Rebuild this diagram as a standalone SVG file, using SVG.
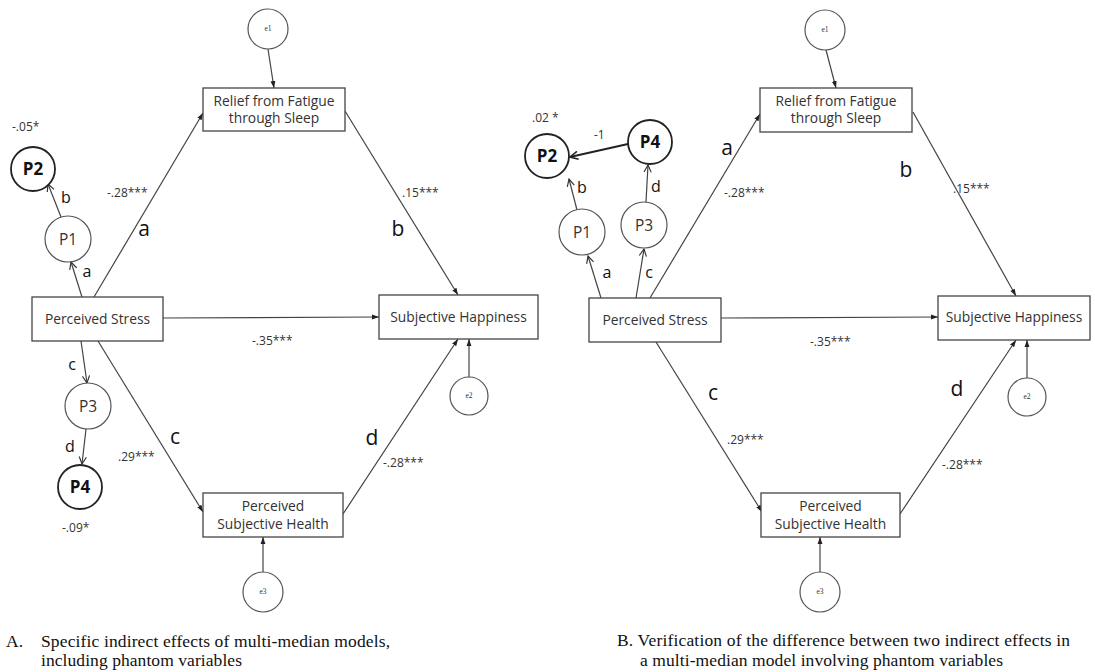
<svg xmlns="http://www.w3.org/2000/svg" width="1095" height="672" viewBox="0 0 1095 672">
<defs>
<style>
.box{fill:#fff;stroke:#444;stroke-width:1.3}
.cir{fill:#fff;stroke:#555;stroke-width:1.2}
.cirb{fill:#fff;stroke:#222;stroke-width:1.8}
.ln{stroke:#444;stroke-width:1.2;fill:none}
.lnb{stroke:#222;stroke-width:1.8;fill:none}
.t{font-family:"Open Sans","Noto Sans",sans-serif;font-size:13.8px;fill:#333;text-anchor:middle}
.coef{font-family:"Open Sans","Noto Sans",sans-serif;font-size:12px;fill:#333}
.big{font-family:"Open Sans","Noto Sans",sans-serif;font-size:21px;fill:#111;text-anchor:middle}
.sm{font-family:"Open Sans","Noto Sans",sans-serif;font-size:16px;fill:#111;text-anchor:middle}
.p{font-family:"Open Sans","Noto Sans",sans-serif;font-size:15.5px;fill:#333;text-anchor:middle}
.pb{font-family:"Open Sans","Noto Sans",sans-serif;font-size:17px;font-weight:bold;fill:#111;text-anchor:middle}
.e{font-family:"Liberation Serif",serif;font-size:7.5px;fill:#333;text-anchor:middle}
.cap{font-family:"Liberation Serif",serif;font-size:17.5px;fill:#111}
</style>
<marker id="fa" viewBox="0 0 10 10" refX="10" refY="5" markerWidth="7" markerHeight="7" orient="auto" markerUnits="userSpaceOnUse"><path d="M0,1.5 L10,5 L0,8.5 z" fill="#222"/></marker>
<marker id="oa" viewBox="0 0 10 10" refX="9" refY="5" markerWidth="9" markerHeight="9" orient="auto" markerUnits="userSpaceOnUse"><path d="M1,1 L9,5 L1,9" fill="none" stroke="#333" stroke-width="1.3"/></marker>
<marker id="ob" viewBox="0 0 10 10" refX="9" refY="5" markerWidth="10" markerHeight="10" orient="auto" markerUnits="userSpaceOnUse"><path d="M1,1 L9,5 L1,9" fill="none" stroke="#222" stroke-width="1.6"/></marker>
</defs>
<rect width="1095" height="672" fill="#fff"/>

<!-- Connectors -->
<g id="connectors">
<!-- Panel A -->
<line class="ln" x1="268" y1="49" x2="274" y2="88" marker-end="url(#fa)"/>
<line class="ln" x1="94" y1="297" x2="203" y2="113" marker-end="url(#fa)"/>
<line class="ln" x1="163" y1="318" x2="379" y2="317" marker-end="url(#fa)"/>
<line class="ln" x1="345" y1="111" x2="458" y2="295" marker-end="url(#fa)"/>
<line class="ln" x1="98" y1="341" x2="203" y2="512" marker-end="url(#fa)"/>
<line class="ln" x1="343" y1="514" x2="458" y2="339" marker-end="url(#fa)"/>
<line class="ln" x1="469" y1="377" x2="469" y2="339" marker-end="url(#fa)"/>
<line class="ln" x1="263" y1="572" x2="263" y2="537" marker-end="url(#fa)"/>
<line class="ln" x1="82" y1="297" x2="71" y2="262" marker-end="url(#oa)"/>
<line class="ln" x1="61" y1="217" x2="48" y2="184" marker-end="url(#oa)"/>
<line class="ln" x1="81" y1="341" x2="87" y2="383" marker-end="url(#oa)"/>
<line class="ln" x1="86" y1="429" x2="82" y2="464" marker-end="url(#oa)"/>
<!-- Panel B -->
<line class="ln" x1="826" y1="50" x2="836" y2="88" marker-end="url(#fa)"/>
<line class="ln" x1="650" y1="298" x2="760" y2="114" marker-end="url(#fa)"/>
<line class="ln" x1="721" y1="318" x2="938" y2="317" marker-end="url(#fa)"/>
<line class="ln" x1="913" y1="112" x2="1016" y2="296" marker-end="url(#fa)"/>
<line class="ln" x1="656" y1="342" x2="762" y2="512" marker-end="url(#fa)"/>
<line class="ln" x1="900" y1="514" x2="1016" y2="340" marker-end="url(#fa)"/>
<line class="ln" x1="1027" y1="378" x2="1027" y2="340" marker-end="url(#fa)"/>
<line class="ln" x1="820" y1="572" x2="820" y2="537" marker-end="url(#fa)"/>
<line class="ln" x1="601" y1="298" x2="588" y2="256" marker-end="url(#oa)"/>
<line class="ln" x1="636" y1="298" x2="644" y2="249" marker-end="url(#oa)"/>
<line class="ln" x1="577" y1="210" x2="569" y2="179" marker-end="url(#oa)"/>
<line class="ln" x1="646" y1="202" x2="648" y2="165" marker-end="url(#oa)"/>
<line class="lnb" x1="628" y1="144" x2="570" y2="157" marker-end="url(#ob)"/>
</g>

<!-- Panel A nodes -->
<g id="A_e1"><circle class="cir" cx="268" cy="29" r="20"/><text class="e" x="268" y="31">e1</text></g>
<g id="A_relief"><rect class="box" x="203" y="88" width="142" height="43"/><text class="t" x="274" y="106">Relief from Fatigue</text><text class="t" x="274" y="123">through Sleep</text></g>
<g id="A_stress"><rect class="box" x="32" y="297" width="131" height="44"/><text class="t" x="97.5" y="324">Perceived Stress</text></g>
<g id="A_happy"><rect class="box" x="379" y="295" width="159" height="44"/><text class="t" x="458.5" y="322">Subjective Happiness</text></g>
<g id="A_health"><rect class="box" x="203" y="493" width="140" height="44"/><text class="t" x="273" y="511">Perceived</text><text class="t" x="273" y="529">Subjective Health</text></g>
<g id="A_e2"><circle class="cir" cx="469" cy="396" r="19"/><text class="e" x="469" y="398">e2</text></g>
<g id="A_e3"><circle class="cir" cx="263" cy="592" r="20"/><text class="e" x="263" y="594">e3</text></g>
<g id="A_P2"><circle class="cirb" cx="33" cy="169" r="22"/><text class="pb" x="33" y="175">P2</text></g>
<g id="A_P1"><circle class="cir" cx="68" cy="239" r="23"/><text class="p" x="68" y="244.5">P1</text></g>
<g id="A_P3"><circle class="cir" cx="88" cy="406" r="23"/><text class="p" x="88" y="411.5">P3</text></g>
<g id="A_P4"><circle class="cirb" cx="80" cy="487" r="22"/><text class="pb" x="80" y="493">P4</text></g>

<!-- Panel A labels -->
<g id="A_labels">
<text class="coef" x="12" y="131">-.05*</text>
<text class="sm" x="66" y="203">b</text>
<text class="sm" x="87" y="277">a</text>
<text class="coef" x="107" y="197">-.28***</text>
<text class="big" x="144" y="236">a</text>
<text class="coef" x="252" y="345">-.35***</text>
<text class="coef" x="402" y="197">.15***</text>
<text class="big" x="398" y="236">b</text>
<text class="sm" x="72" y="370">c</text>
<text class="sm" x="70" y="452">d</text>
<text class="coef" x="62" y="532">-.09*</text>
<text class="big" x="175" y="444">c</text>
<text class="coef" x="118" y="461">.29***</text>
<text class="big" x="372" y="445">d</text>
<text class="coef" x="383" y="467">-.28***</text>
</g>

<!-- Panel B nodes -->
<g id="B_e1"><circle class="cir" cx="825" cy="30" r="20"/><text class="e" x="825" y="32">e1</text></g>
<g id="B_relief"><rect class="box" x="760" y="88" width="152" height="44"/><text class="t" x="836" y="106">Relief from Fatigue</text><text class="t" x="836" y="123">through Sleep</text></g>
<g id="B_stress"><rect class="box" x="589" y="298" width="132" height="44"/><text class="t" x="655" y="325">Perceived Stress</text></g>
<g id="B_happy"><rect class="box" x="938" y="296" width="152" height="44"/><text class="t" x="1014" y="322">Subjective Happiness</text></g>
<g id="B_health"><rect class="box" x="761" y="493" width="139" height="44"/><text class="t" x="830.5" y="511">Perceived</text><text class="t" x="830.5" y="529">Subjective Health</text></g>
<g id="B_e2"><circle class="cir" cx="1027" cy="397" r="19"/><text class="e" x="1027" y="399">e2</text></g>
<g id="B_e3"><circle class="cir" cx="820" cy="592" r="20"/><text class="e" x="820" y="594">e3</text></g>
<g id="B_P2"><circle class="cirb" cx="547" cy="156" r="22"/><text class="pb" x="547" y="162">P2</text></g>
<g id="B_P4"><circle class="cirb" cx="650" cy="142" r="22"/><text class="pb" x="650" y="148">P4</text></g>
<g id="B_P1"><circle class="cir" cx="582" cy="232" r="23"/><text class="p" x="582" y="237.5">P1</text></g>
<g id="B_P3"><circle class="cir" cx="644" cy="225" r="23"/><text class="p" x="644" y="230.5">P3</text></g>

<!-- Panel B labels -->
<g id="B_labels">
<text class="coef" x="532" y="122">.02 *</text>
<text class="coef" x="594" y="139">-1</text>
<text class="sm" x="582" y="193">b</text>
<text class="sm" x="656" y="192">d</text>
<text class="sm" x="607" y="278">a</text>
<text class="sm" x="649" y="278">c</text>
<text class="big" x="727" y="155">a</text>
<text class="coef" x="724" y="197">-.28***</text>
<text class="coef" x="810" y="346">-.35***</text>
<text class="big" x="906" y="177">b</text>
<text class="coef" x="953" y="193">.15***</text>
<text class="big" x="713" y="400">c</text>
<text class="coef" x="727" y="444">.29***</text>
<text class="big" x="957" y="396">d</text>
<text class="coef" x="942" y="469">-.28***</text>
</g>

<!-- Captions -->
<g id="captions">
<text class="cap" x="6" y="647">A.</text>
<text class="cap" x="41" y="647" textLength="349" lengthAdjust="spacing">Specific indirect effects of multi-median  models,</text>
<text class="cap" x="41" y="666" textLength="201" lengthAdjust="spacing">including  phantom variables</text>
<text class="cap" x="617" y="646" textLength="453" lengthAdjust="spacing">B. Verification  of the difference  between two indirect effects in</text>
<text class="cap" x="640" y="666" textLength="363" lengthAdjust="spacing">a multi-median  model involving  phantom variables</text>
</g>
</svg>
